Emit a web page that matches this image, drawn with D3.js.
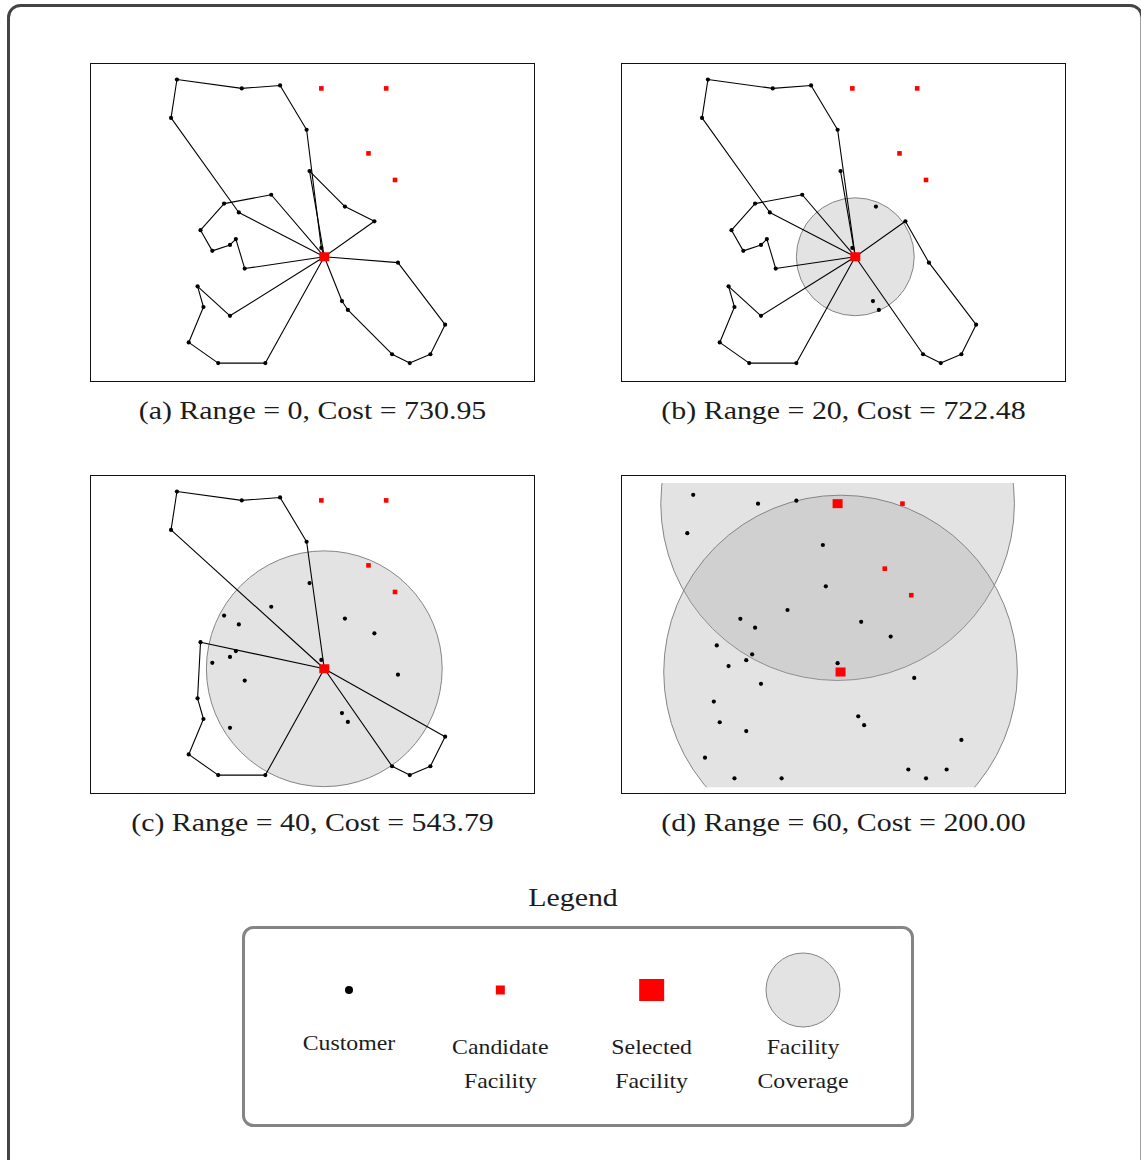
<!DOCTYPE html>
<html>
<head>
<meta charset="utf-8">
<script src="https://cdn.jsdelivr.net/npm/d3@7"></script>
<style>
  html, body { margin: 0; padding: 0; background: #fff; }
  svg { display: block; }
  text { font-family: "Liberation Serif", "Times New Roman", serif; fill: #1c1c1c; }
</style>
</head>
<body>
<svg id="chart" width="1141" height="1160"></svg>
<script>
// ---------------------------------------------------------------
// Data: customer locations (x, y), candidate facility sites,
// coverage range per scenario, resulting cost, chosen sites, routes.
// ---------------------------------------------------------------
const customers = [
  [29, 102], [51, 99], [64, 100], [27, 89], [73, 85], [74, 71],
  [61, 63], [45, 60], [50, 57], [86, 59], [96, 54], [37, 51],
  [41, 44], [47, 46], [49, 48], [52, 38], [78, 45], [104, 40],
  [36, 32], [38, 25], [47, 22], [85, 27], [87, 24], [120, 19],
  [33, 13], [115, 9], [102, 9], [43, 6], [59, 6], [108, 6]
];

const candidateSites = [[78, 99], [100, 99], [94, 77], [103, 68], [79, 42]];
const depotSite = 4;

const panelLetters = ["a", "b", "c", "d"];
const coverageRanges = [0, 20, 40, 60];
const totalCosts = [730.95, 722.48, 543.79, 200.00];
const selectedSites = [[4], [4], [4], [0, 4]];

// vehicle routes (customer indices), each starting and ending at the depot
const routesRange0 = [
  [16, 4, 2, 1, 0, 3, 8],
  [6, 7, 11, 12, 13, 14, 15],
  [5, 9, 10],
  [20, 18, 19, 24, 27, 28],
  [17, 23, 25, 29, 26, 22, 21]
];
const routesRange20 = [
  [4, 2, 1, 0, 3, 8],
  [6, 7, 11, 12, 13, 14, 15],
  [5],
  [20, 18, 19, 24, 27, 28],
  [10, 17, 23, 25, 29, 26]
];
const routesRange40 = [
  [4, 2, 1, 0, 3],
  [11, 18, 19, 24, 27, 28],
  [23, 25, 29, 26]
];
const routesRange60 = [];
const panelRoutes = [routesRange0, routesRange20, routesRange40, routesRange60];

const legendItems = [
  { kind: "customer", lines: ["Customer"] },
  { kind: "candidate", lines: ["Candidate", "Facility"] },
  { kind: "selected", lines: ["Selected", "Facility"] },
  { kind: "coverage", lines: ["Facility", "Coverage"] }
];

// ---------------------------------------------------------------
// Layout
// ---------------------------------------------------------------
const svg = d3.select("#chart");
const boxW = 445, boxH = 319;
const panelOrigin = [[90, 63], [621, 63], [90, 475], [621, 475]];
const baseX = [-0.5, 150.5], baseY = [-0.4, 107.6];
// view window offset of each drawing (data units)
const viewShift = [[0, 0], [0, 0], [0, 0], [5, 1.1]];
// vertical clipping band of the coverage discs (data units), if any
const coverageBand = [null, null, null, [3, 106]];
const textStretch = 1.15;

function stretchText(sel) {
  sel.each(function () {
    const w = this.getComputedTextLength();
    d3.select(this).attr("textLength", w * textStretch).attr("lengthAdjust", "spacingAndGlyphs");
  });
}

// outer frame (runs off the right and bottom edges of the page)
svg.append("rect")
  .attr("x", 8.5).attr("y", 5.5)
  .attr("width", 1133.5).attr("height", 1200)
  .attr("rx", 12)
  .attr("fill", "none").attr("stroke", "#444").attr("stroke-width", 3);

const defs = svg.append("defs");

panelLetters.forEach((letter, i) => {
  const [ox, oy] = panelOrigin[i];
  const [sx, sy] = viewShift[i];
  const x = d3.scaleLinear().domain([baseX[0] + sx, baseX[1] + sx]).range([0, boxW]);
  const y = d3.scaleLinear().domain([baseY[0] + sy, baseY[1] + sy]).range([boxH, 0]);

  const g = svg.append("g").attr("transform", `translate(${ox},${oy})`);

  g.append("rect").attr("width", boxW).attr("height", boxH).attr("fill", "#fff");

  // coverage discs
  const range = coverageRanges[i];
  const sites = selectedSites[i];
  if (range > 0) {
    const clipId = `clip-${letter}`;
    const band = coverageBand[i];
    defs.append("clipPath").attr("id", clipId)
      .append("rect")
      .attr("x", 0).attr("width", boxW)
      .attr("y", band ? y(band[1]) : 0)
      .attr("height", band ? y(band[0]) - y(band[1]) : boxH);
    const r = x(range) - x(0);
    g.append("g").attr("clip-path", `url(#${clipId})`)
      .selectAll("circle").data(sites).join("circle")
      .attr("cx", s => x(candidateSites[s][0]))
      .attr("cy", s => y(candidateSites[s][1]))
      .attr("r", r)
      .attr("fill", "#a8a8a8").attr("fill-opacity", 0.32)
      .attr("stroke", "#858585").attr("stroke-width", 1);
  }

  // routes
  const depot = candidateSites[depotSite];
  const line = d3.line().x(p => x(p[0])).y(p => y(p[1]));
  g.append("g").selectAll("path").data(panelRoutes[i]).join("path")
    .attr("d", rt => line([depot, ...rt.map(c => customers[c]), depot]))
    .attr("fill", "none").attr("stroke", "#000").attr("stroke-width", 1.1)
    .attr("stroke-linejoin", "round");

  // customers
  g.append("g").selectAll("circle").data(customers).join("circle")
    .attr("cx", d => x(d[0])).attr("cy", d => y(d[1])).attr("r", 2.1)
    .attr("fill", "#000");

  // candidate sites not selected
  const openSites = candidateSites.map((d, k) => k).filter(k => !sites.includes(k));
  const cs = 4.6;
  g.append("g").selectAll("rect").data(openSites).join("rect")
    .attr("x", k => x(candidateSites[k][0]) - cs / 2)
    .attr("y", k => y(candidateSites[k][1]) - cs / 2)
    .attr("width", cs).attr("height", cs).attr("fill", "#ff0000");

  // selected sites
  const sw = 10, sh = 9;
  g.append("g").selectAll("rect").data(sites).join("rect")
    .attr("x", k => x(candidateSites[k][0]) - sw / 2)
    .attr("y", k => y(candidateSites[k][1]) - sh / 2)
    .attr("width", sw).attr("height", sh).attr("fill", "#ff0000");

  // frame
  g.append("rect").attr("x", 0.5).attr("y", 0.5)
    .attr("width", boxW - 1).attr("height", boxH - 1)
    .attr("fill", "none").attr("stroke", "#111").attr("stroke-width", 1);

  // caption
  g.append("text")
    .attr("x", boxW / 2).attr("y", boxH + 37)
    .attr("text-anchor", "middle")
    .attr("font-size", 26)
    .text(`(${letter}) Range = ${range}, Cost = ${totalCosts[i].toFixed(2)}`)
    .call(stretchText);
});

// ---------------------------------------------------------------
// Legend
// ---------------------------------------------------------------
svg.append("text")
  .attr("x", 573).attr("y", 906)
  .attr("text-anchor", "middle").attr("font-size", 26)
  .text("Legend").call(stretchText);

svg.append("rect")
  .attr("x", 243.5).attr("y", 927.5).attr("width", 669).attr("height", 198)
  .attr("rx", 10)
  .attr("fill", "#fff").attr("stroke", "#848484").attr("stroke-width", 3);

const legendX = d3.scalePoint().domain(d3.range(legendItems.length)).range([349, 803]);
const markY = 990;

legendItems.forEach((item, k) => {
  const cx = legendX(k);
  const lg = svg.append("g");
  if (item.kind === "customer") {
    lg.append("circle").attr("cx", cx).attr("cy", markY).attr("r", 4).attr("fill", "#000");
  } else if (item.kind === "candidate") {
    lg.append("rect").attr("x", cx - 4.5).attr("y", markY - 4.5)
      .attr("width", 9).attr("height", 9).attr("fill", "#ff0000");
  } else if (item.kind === "selected") {
    lg.append("rect").attr("x", cx - 12.5).attr("y", markY - 11)
      .attr("width", 25).attr("height", 22).attr("fill", "#ff0000");
  } else {
    lg.append("circle").attr("cx", cx).attr("cy", markY).attr("r", 37)
      .attr("fill", "#a8a8a8").attr("fill-opacity", 0.32)
      .attr("stroke", "#858585").attr("stroke-width", 1);
  }
  const firstBase = item.lines.length === 1 ? 1050 : 1054;
  item.lines.forEach((t, j) => {
    lg.append("text")
      .attr("x", cx).attr("y", firstBase + j * 34)
      .attr("text-anchor", "middle").attr("font-size", 20.7)
      .text(t).call(stretchText);
  });
});
</script>
</body>
</html>
